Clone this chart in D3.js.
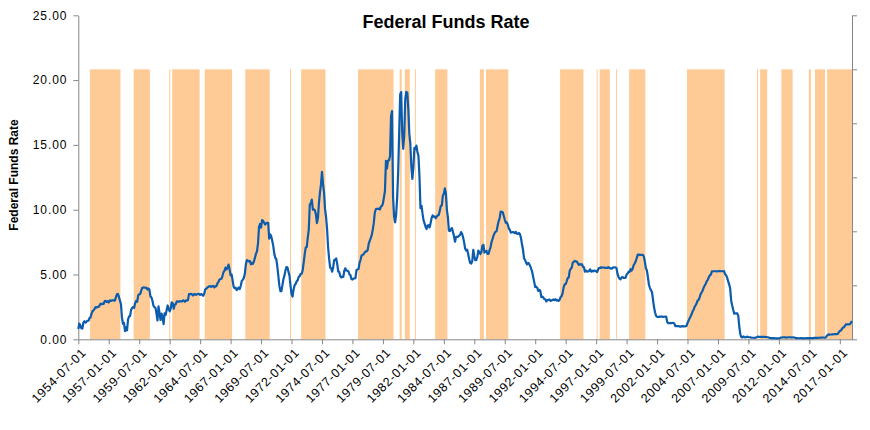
<!DOCTYPE html>
<html><head><meta charset="utf-8">
<script src="https://cdn.jsdelivr.net/npm/d3@7/dist/d3.min.js"></script>
<style>
body{margin:0;background:#fff}
svg{display:block}
text{font-family:"Liberation Sans",Arial,sans-serif}
</style>
</head><body>
<svg id="chart" width="870" height="430"></svg>
<script>
// ---- DATA ----
const firstMonth = "1954-07-01";
// Monthly federal funds rate (%), 1954-07 .. 2018-01
const rate = [
/*1954*/ 0.80,1.22,1.07,0.85,0.83,1.28,
/*1955*/ 1.39,1.29,1.35,1.43,1.43,1.64,1.68,1.96,2.18,2.24,2.35,2.48,
/*1956*/ 2.45,2.50,2.50,2.62,2.75,2.71,2.75,2.73,2.95,2.96,2.88,2.94,
/*1957*/ 2.84,3.00,2.96,3.00,3.00,3.00,2.99,3.24,3.47,3.50,3.28,2.98,
/*1958*/ 2.72,1.67,1.20,1.26,0.63,0.93,0.68,1.53,1.76,1.80,2.27,2.42,
/*1959*/ 2.48,2.43,2.80,2.96,2.90,3.39,3.47,3.50,3.76,3.98,4.00,3.99,
/*1960*/ 3.99,3.97,3.84,3.92,3.85,3.32,3.23,2.98,2.60,2.47,2.44,1.98,
/*1961*/ 1.45,2.54,2.02,1.49,1.98,1.73,1.17,2.00,1.88,2.26,2.61,2.33,
/*1962*/ 2.15,2.37,2.85,2.78,2.36,2.68,2.71,2.93,2.90,2.90,2.94,2.93,
/*1963*/ 2.92,3.00,2.98,2.90,3.00,2.99,3.02,3.49,3.48,3.50,3.48,3.38,
/*1964*/ 3.48,3.48,3.43,3.47,3.50,3.50,3.42,3.50,3.45,3.36,3.52,3.85,
/*1965*/ 3.90,3.98,4.04,4.09,4.10,4.04,4.09,4.12,4.01,4.08,4.10,4.32,
/*1966*/ 4.42,4.60,4.65,4.67,4.90,5.17,5.30,5.53,5.40,5.53,5.76,5.40,
/*1967*/ 4.94,5.00,4.53,4.05,3.94,3.98,3.79,3.90,3.99,3.88,4.13,4.51,
/*1968*/ 4.60,4.71,5.05,5.76,6.11,6.07,6.02,6.03,5.78,5.91,5.82,6.02,
/*1969*/ 6.30,6.61,6.79,7.41,8.67,8.90,8.61,9.19,9.15,9.00,8.85,8.97,
/*1970*/ 8.98,8.98,7.76,8.10,7.95,7.61,7.21,6.61,6.29,6.20,5.60,4.90,
/*1971*/ 4.14,3.72,3.71,4.16,4.63,4.91,5.31,5.57,5.55,5.20,4.91,4.14,
/*1972*/ 3.50,3.29,3.83,4.17,4.27,4.46,4.55,4.80,4.87,5.04,5.06,5.33,
/*1973*/ 5.94,6.58,7.09,7.12,7.84,8.49,10.40,10.50,10.78,10.01,10.03,9.95,
/*1974*/ 9.65,8.97,9.35,10.51,11.31,11.93,12.92,12.01,11.34,10.06,9.45,8.53,
/*1975*/ 7.13,6.24,5.54,5.49,5.22,5.55,6.10,6.14,6.24,5.82,5.22,5.20,
/*1976*/ 4.87,4.77,4.84,4.82,5.29,5.48,5.31,5.29,5.25,5.02,4.95,4.65,
/*1977*/ 4.61,4.68,4.69,4.73,5.35,5.39,5.42,5.90,6.14,6.47,6.51,6.56,
/*1978*/ 6.70,6.78,6.79,6.89,7.36,7.60,7.81,8.04,8.45,8.96,9.76,10.03,
/*1979*/ 10.07,10.06,10.09,10.01,10.24,10.29,10.47,10.94,11.43,13.77,13.18,13.78,
/*1980*/ 13.82,14.13,17.19,17.61,10.98,9.47,9.03,9.61,10.87,12.81,15.85,18.90,
/*1981*/ 19.08,15.93,14.70,15.72,18.52,19.10,19.04,17.82,15.87,15.08,13.31,12.37,
/*1982*/ 13.22,14.78,14.68,14.94,14.45,14.15,12.59,10.12,10.31,9.71,9.20,8.95,
/*1983*/ 8.68,8.51,8.77,8.80,8.63,8.98,9.37,9.56,9.45,9.48,9.34,9.47,
/*1984*/ 9.56,9.59,9.91,10.29,10.32,11.06,11.23,11.64,11.30,9.99,9.43,8.38,
/*1985*/ 8.35,8.50,8.58,8.27,7.97,7.53,7.88,7.90,7.92,7.99,8.05,8.27,
/*1986*/ 8.14,7.86,7.48,6.99,6.85,6.92,6.56,6.17,5.89,5.85,6.04,6.91,
/*1987*/ 6.43,6.10,6.13,6.37,6.85,6.73,6.58,6.73,7.22,7.29,6.69,6.77,
/*1988*/ 6.83,6.58,6.58,6.87,7.09,7.51,7.75,8.01,8.19,8.30,8.35,8.76,
/*1989*/ 9.12,9.36,9.85,9.84,9.81,9.53,9.24,8.99,9.02,8.84,8.55,8.45,
/*1990*/ 8.23,8.24,8.28,8.26,8.18,8.29,8.15,8.13,8.20,8.11,7.81,7.31,
/*1991*/ 6.91,6.25,6.12,5.91,5.78,5.90,5.82,5.66,5.45,5.21,4.81,4.43,
/*1992*/ 4.03,4.06,3.98,3.73,3.82,3.76,3.25,3.30,3.22,3.10,3.09,2.92,
/*1993*/ 3.02,3.03,3.07,2.96,3.00,3.04,3.06,3.03,3.09,2.99,3.02,2.96,
/*1994*/ 3.05,3.25,3.34,3.56,4.01,4.25,4.26,4.47,4.73,4.76,5.29,5.45,
/*1995*/ 5.53,5.92,5.98,6.05,6.01,6.00,5.85,5.74,5.80,5.76,5.80,5.60,
/*1996*/ 5.56,5.22,5.31,5.22,5.24,5.27,5.40,5.22,5.30,5.24,5.31,5.29,
/*1997*/ 5.25,5.19,5.39,5.51,5.50,5.56,5.52,5.54,5.54,5.50,5.52,5.50,
/*1998*/ 5.56,5.51,5.49,5.45,5.49,5.56,5.54,5.55,5.51,5.07,4.83,4.68,
/*1999*/ 4.63,4.76,4.81,4.74,4.74,4.76,4.99,5.07,5.22,5.20,5.42,5.30,
/*2000*/ 5.45,5.73,5.85,6.02,6.27,6.53,6.54,6.50,6.52,6.51,6.51,6.40,
/*2001*/ 5.98,5.49,5.31,4.80,4.21,3.97,3.77,3.65,3.07,2.49,2.09,1.82,
/*2002*/ 1.73,1.74,1.73,1.75,1.75,1.75,1.73,1.74,1.75,1.75,1.34,1.24,
/*2003*/ 1.24,1.26,1.25,1.26,1.26,1.22,1.01,1.03,1.01,1.01,1.00,0.98,
/*2004*/ 1.00,1.01,1.00,1.00,1.00,1.03,1.26,1.43,1.61,1.76,1.93,2.16,
/*2005*/ 2.28,2.50,2.63,2.79,3.00,3.04,3.26,3.50,3.62,3.78,4.00,4.16,
/*2006*/ 4.29,4.49,4.59,4.79,4.94,4.99,5.24,5.25,5.25,5.25,5.25,5.24,
/*2007*/ 5.25,5.26,5.26,5.25,5.25,5.25,5.26,5.02,4.94,4.76,4.49,4.24,
/*2008*/ 3.94,2.98,2.61,2.28,1.98,2.00,2.01,2.00,1.81,0.97,0.39,0.16,
/*2009*/ 0.15,0.22,0.18,0.15,0.18,0.21,0.16,0.16,0.15,0.12,0.12,0.12,
/*2010*/ 0.11,0.13,0.16,0.20,0.20,0.18,0.18,0.19,0.19,0.19,0.19,0.18,
/*2011*/ 0.17,0.16,0.14,0.10,0.09,0.09,0.07,0.10,0.08,0.07,0.08,0.07,
/*2012*/ 0.08,0.10,0.13,0.14,0.16,0.16,0.16,0.13,0.14,0.16,0.16,0.16,
/*2013*/ 0.14,0.15,0.14,0.15,0.11,0.09,0.09,0.08,0.08,0.09,0.08,0.09,
/*2014*/ 0.07,0.07,0.08,0.09,0.09,0.10,0.09,0.09,0.09,0.09,0.09,0.12,
/*2015*/ 0.11,0.11,0.11,0.12,0.12,0.13,0.13,0.14,0.14,0.12,0.12,0.24,
/*2016*/ 0.34,0.38,0.36,0.37,0.37,0.38,0.39,0.40,0.40,0.40,0.41,0.54,
/*2017*/ 0.65,0.66,0.79,0.90,0.91,1.04,1.15,1.16,1.15,1.15,1.16,1.30,
/*2018*/ 1.41
];

// Shaded periods (secondary-axis columns of value 1), first and last month
const bandStart = ["1955-07","1959-02","1962-01","1962-04","1964-12","1968-04","1971-12","1972-11",
  "1977-07","1980-12","1981-05","1982-03","1983-11","1987-07","1988-01","1994-02","1997-02","1997-05",
  "1998-09","1999-10","2004-07","2010-04","2010-07","2012-04","2014-07","2015-01","2016-01"];
const bandEnd = ["1957-12","1960-05","1962-01","1964-06","1967-02","1970-03","1971-12","1974-10",
  "1980-05","1981-01","1981-09","1982-03","1984-10","1987-10","1989-10","1995-12","1997-02","1998-02",
  "1998-09","2001-01","2007-07","2010-04","2011-01","2013-02","2014-08","2015-10","2018-01"];
const bandValue = 1;

const xTickLabels = ["1954-07-01","1957-01-01","1959-07-01","1962-01-01","1964-07-01","1967-01-01",
  "1969-07-01","1972-01-01","1974-07-01","1977-01-01","1979-07-01","1982-01-01","1984-07-01",
  "1987-01-01","1989-07-01","1992-01-01","1994-07-01","1997-01-01","1999-07-01","2002-01-01",
  "2004-07-01","2007-01-01","2009-07-01","2012-01-01","2014-07-01","2017-01-01"];
const yTicks = [0, 5, 10, 15, 20, 25];
const y2Ticks = [0, 0.2, 0.4, 0.6, 0.8, 1.0, 1.2];

const title = "Federal Funds Rate";
const yTitle = "Federal Funds Rate";

// ---- LAYOUT ----
const L = 78.3, R = 852, T = 15.3, B = 339.3;
const axisColor = "#868686";
const bandColor = "#FECB97";
const lineColor = "#0B5CAD";

const svg = d3.select("#chart");
const parseDay = d3.timeParse("%Y-%m-%d");
const parseMonth = d3.timeParse("%Y-%m");
const t0 = parseDay(firstMonth);
const monthIndex = d => d3.timeMonth.count(t0, d);

const x = d3.scaleLinear().domain([0, rate.length - 1]).range([L, R]);
const step = x(1) - x(0);
const y = d3.scaleLinear().domain([0, 25]).range([B, T]);
const y2 = d3.scaleLinear().domain([0, 1.2]).range([B, T]);

// bands
const bands = bandStart.map((s, i) => ({s: monthIndex(parseMonth(s)), e: monthIndex(parseMonth(bandEnd[i]))}));
svg.append("g").selectAll("rect").data(bands).join("rect")
  .attr("x", d => Math.max(L, x(d.s) - step / 2))
  .attr("width", d => Math.min(R, x(d.e) + step / 2) - Math.max(L, x(d.s) - step / 2))
  .attr("y", y2(bandValue))
  .attr("height", y2(0) - y2(bandValue))
  .attr("fill", bandColor);

// axes
const tf = g => {
  g.select(".domain").attr("stroke", axisColor).attr("stroke-width", 1);
  g.selectAll(".tick line").attr("stroke", axisColor);
  g.selectAll("text").attr("fill", "#000").style("font-size", "12px").attr("font-family", "Liberation Sans, Arial, sans-serif");
};

svg.append("g").attr("transform", `translate(${L},0)`)
  .call(d3.axisLeft(y).tickValues(yTicks).tickFormat(d3.format(".2f")).tickSize(5).tickSizeOuter(0).tickPadding(6))
  .call(tf)
  .call(g => g.selectAll("text").style("letter-spacing", "0.9px"));

svg.append("g").attr("transform", `translate(${R},0)`)
  .call(d3.axisRight(y2).tickValues(y2Ticks).tickFormat("").tickSize(5).tickSizeOuter(0))
  .call(tf);

const xTickIdx = xTickLabels.map(s => monthIndex(parseDay(s)));
svg.append("g").attr("transform", `translate(0,${B})`)
  .call(d3.axisBottom(x).tickValues(xTickIdx).tickFormat((d, i) => xTickLabels[i]).tickSize(5).tickSizeOuter(0))
  .call(tf)
  .call(g => g.selectAll("text")
    .attr("x", 0).attr("y", 0).attr("dy", "0.35em")
    .attr("text-anchor", "end")
    .style("font-size", "12.5px")
    .style("letter-spacing", "0.7px")
    .attr("transform", "translate(5,11) rotate(-45)"));

// line
const line = d3.line().x((d, i) => x(i)).y(d => y(d));
svg.append("path").datum(rate)
  .attr("d", line)
  .attr("fill", "none")
  .attr("stroke", lineColor)
  .attr("stroke-width", 2.2)
  .attr("stroke-linejoin", "round");

// titles
svg.append("text").attr("x", 446).attr("y", 28).attr("text-anchor", "middle")
  .style("font-size", "18px").style("font-weight", "bold").attr("fill", "#000").text(title);
svg.append("text").attr("transform", "translate(18,175) rotate(-90)").attr("text-anchor", "middle")
  .style("font-size", "12px").style("font-weight", "bold").attr("fill", "#000").text(yTitle);
</script>
</body></html>
